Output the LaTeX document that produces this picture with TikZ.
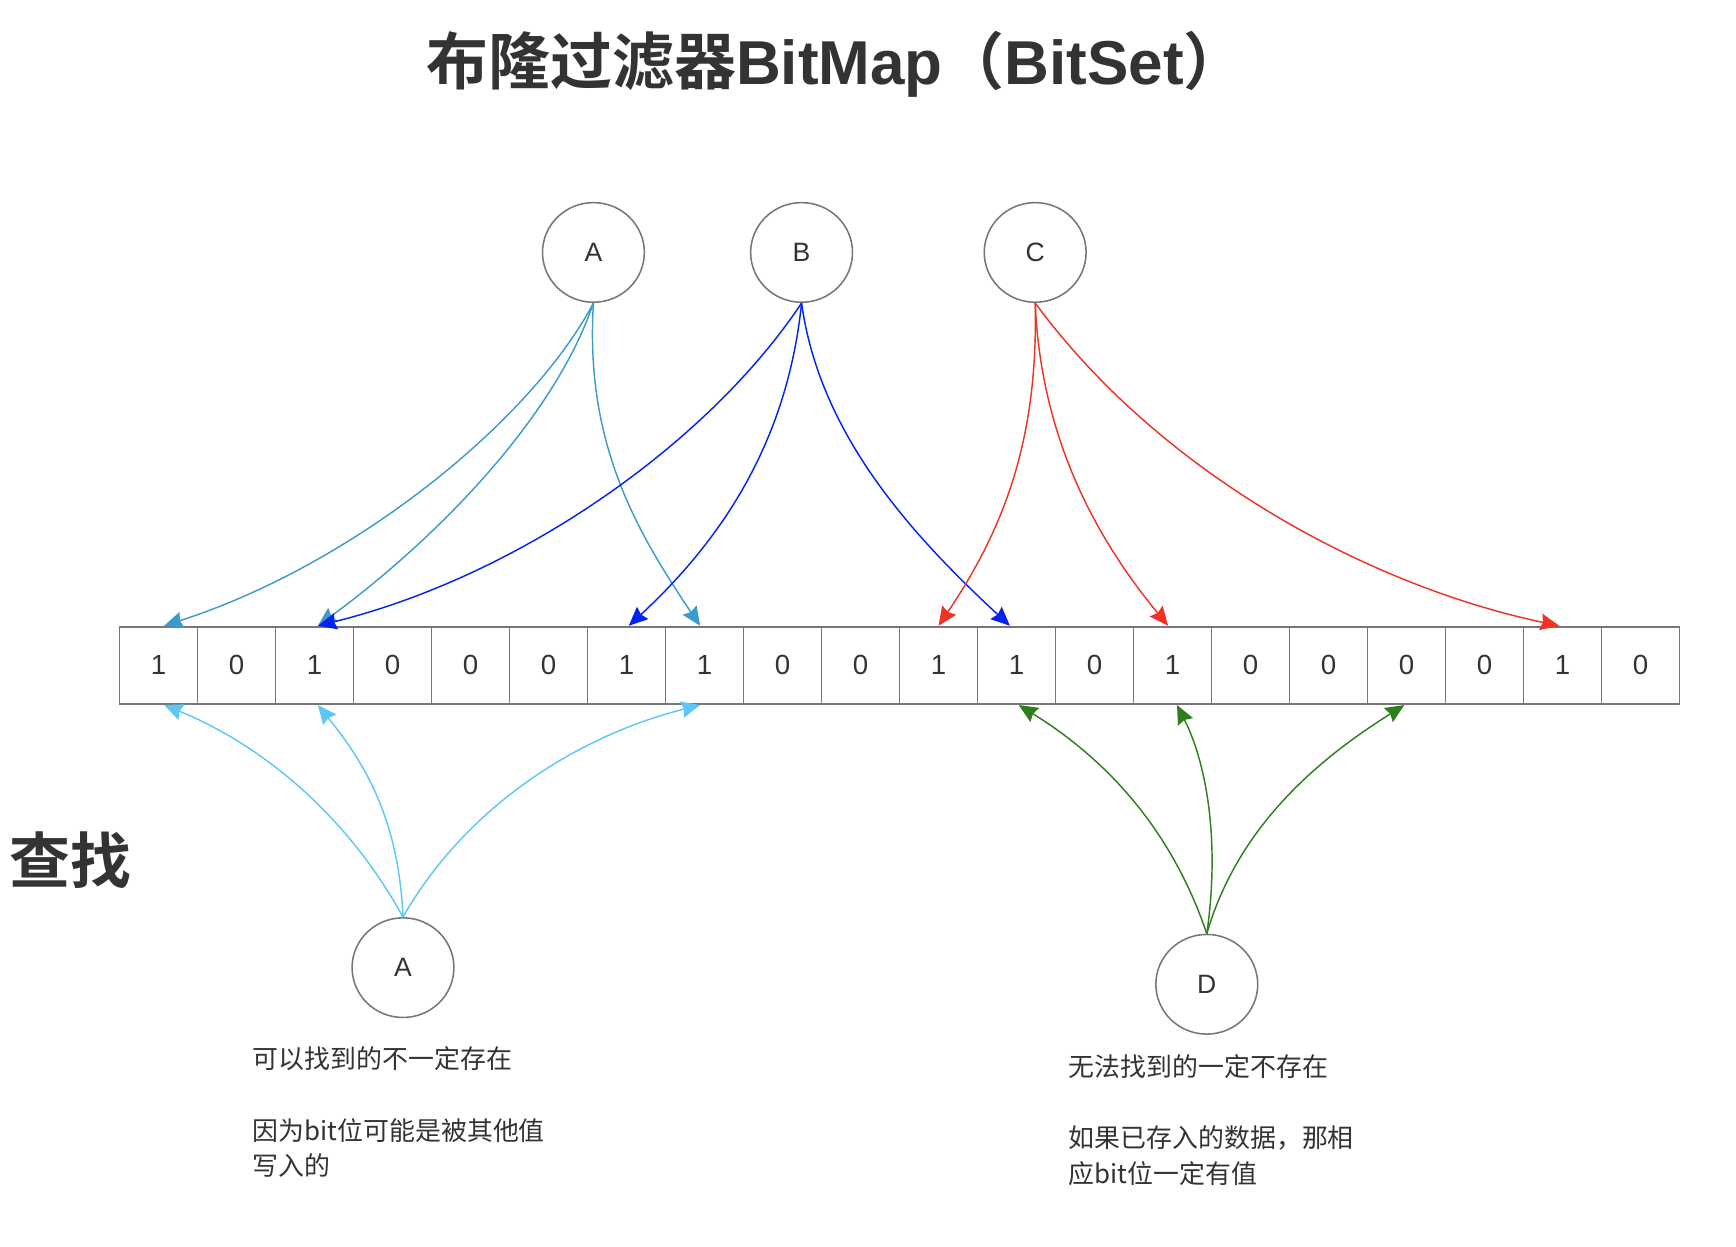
\documentclass[tikz,border=0pt]{standalone}
\usepackage{fontspec}
\setmainfont{Liberation Sans}
\newfontfamily\cjk{Noto Sans CJK SC}
\newfontfamily\cjkb{Noto Sans CJK SC Bold}
\usetikzlibrary{arrows.meta,shapes.geometric}
\definecolor{txt}{HTML}{333333}
\definecolor{gr}{HTML}{777777}
\definecolor{cA}{HTML}{3D9BCB}
\definecolor{cB}{HTML}{0022F5}
\definecolor{cC}{HTML}{EE3224}
\definecolor{cQ}{HTML}{5BC8F8}
\definecolor{cD}{HTML}{2E7D1E}
\begin{document}
\begin{tikzpicture}[x=0.5pt,y=-0.5pt,
  circ/.style={draw=gr,line width=0.7pt,ellipse,minimum width=46pt,minimum height=45pt,inner sep=0pt,font=\fontsize{12}{14}\selectfont,text=txt},
  cell/.style={draw=gr,line width=0.8pt,minimum width=35.225pt,minimum height=35pt,inner sep=0pt,font=\fontsize{12.5}{14}\selectfont,text=txt},
  edge/.style={line width=0.65pt,-{Stealth[length=8.5pt,width=7.5pt,inset=1pt]}},
  note/.style={anchor=west,inner sep=0pt,font=\cjk\fontsize{11.7}{14}\selectfont,text=txt}]
\useasboundingbox (0,0) rectangle (1568,1125.5);
% title
\node[inner sep=0pt,text=txt,font=\fontsize{28}{30}\selectfont] (title) at (755,58) {{\cjkb 布隆过滤器}{\normalfont\bfseries BitMap}{\cjkb （}{\normalfont\bfseries BitSet}{\cjkb ）}};
\node[inner sep=0pt,text=txt,font=\cjkb\fontsize{27.5}{30}\selectfont,anchor=west] (find) at (8,777) {查找};
% cells
\foreach \v [count=\i from 0] in {1,0,1,0,0,0,1,1,0,0,1,1,0,1,0,0,0,0,1,0}{
  \node[cell] (c\i) at ({108+70.45*\i+35.225},601) {\v};
}
% circles
\node[circ] (A) at (536,228) {A};
\node[circ] (B) at (724,228) {B};
\node[circ] (C) at (935,228) {C};
\node[circ] (QA) at (364,874) {A};
\node[circ] (D) at (1090,889) {D};
% A edges
\draw[edge,cA] (A.south) .. controls (480,380) and (320,510) .. ([xshift=2.5pt]c0.north);
\draw[edge,cA] (A.south) .. controls (500,380) and (390,490) .. ([xshift=1.5pt]c2.north);
\draw[edge,cA] (A.south) .. controls (528,400) and (575,480) .. ([xshift=-2pt]c7.north);
% B edges
\draw[edge,cB] (B.south) .. controls (640,400) and (470,520) .. ([xshift=1.5pt]c2.north);
\draw[edge,cB] (B.south) .. controls (712,390) and (660,480) .. ([xshift=1pt]c6.north);
\draw[edge,cB] (B.south) .. controls (740,390) and (820,480) .. ([xshift=-3pt]c11.north);
% C edges
\draw[edge,cC] (C.south) .. controls (938,400) and (905,480) .. (c10.north);
\draw[edge,cC] (C.south) .. controls (940,390) and (985,480) .. ([xshift=-2pt]c13.north);
\draw[edge,cC] (C.south) .. controls (1050,430) and (1240,530) .. ([xshift=-1.5pt]c18.north);
% query A
\draw[edge,cQ] (QA.north) .. controls (310,730) and (230,670) .. ([xshift=2.5pt]c0.south);
\draw[edge,cQ] (QA.north) .. controls (360,740) and (330,690) .. ([xshift=1.5pt]c2.south);
\draw[edge,cQ] (QA.north) .. controls (420,730) and (520,665) .. ([xshift=-2pt]c7.south);
% query D
\draw[edge,cD] (D.north) .. controls (1055,740) and (990,680) .. ([xshift=1pt]c11.south);
\draw[edge,cD] (D.north) .. controls (1102,760) and (1090,690) .. ([xshift=2pt]c13.south);
\draw[edge,cD] (D.north) .. controls (1120,740) and (1200,680) .. ([xshift=-1pt]c16.south);
% notes
\node[note] (n1) at (228,956) {可以找到的不一定存在};
\node[note] (n2) at (228,1021) {因为bit位可能是被其他值};
\node[note] (n3) at (228,1053) {写入的};
\node[note] (m1) at (965,963) {无法找到的一定不存在};
\node[note] (m2) at (965,1028) {如果已存入的数据，那相};
\node[note] (m3) at (965,1060) {应bit位一定有值};
\end{tikzpicture}
\end{document}
